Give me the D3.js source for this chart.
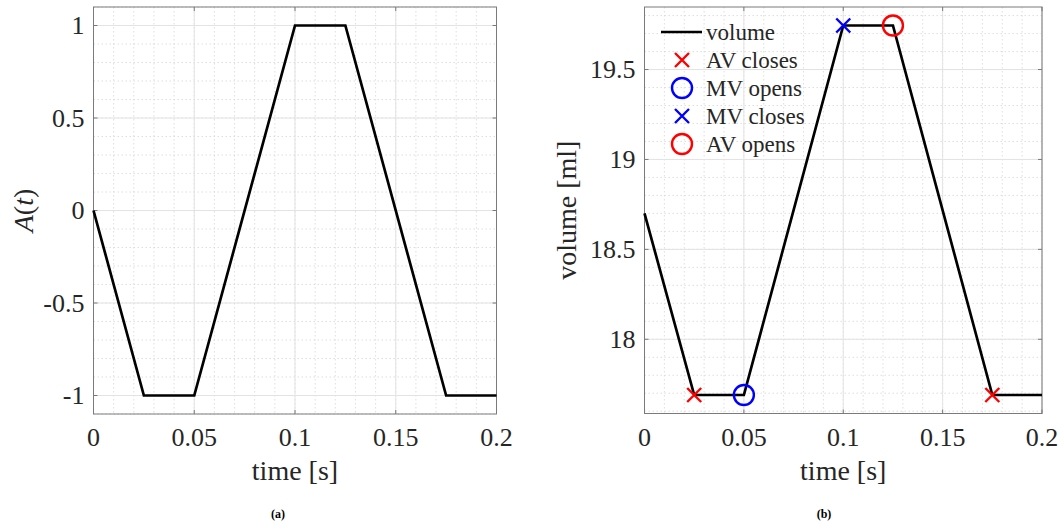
<!DOCTYPE html>
<html>
<head>
<meta charset="utf-8">
<script src="https://cdn.jsdelivr.net/npm/d3@7"></script>
<style>
  body { margin: 0; background: #fff; }
  svg text { font-family: "Liberation Serif", "Times New Roman", serif; fill: #262626; }
</style>
</head>
<body>
<svg id="chart" width="1062" height="525"></svg>
<script>
// waveform A(t) and ventricle volume, same time grid
var time = [0, 0.025, 0.05, 0.1, 0.125, 0.175, 0.2];
var activation = [0, -1, -1, 1, 1, -1, -1];
var volume = [18.7, 17.69, 17.69, 19.745, 19.745, 17.69, 17.69];

var xTicks = [0, 0.05, 0.1, 0.15, 0.2];
var xTickLabels = ["0", "0.05", "0.1", "0.15", "0.2"];
var aTicks = [-1, -0.5, 0, 0.5, 1];
var aTickLabels = ["-1", "-0.5", "0", "0.5", "1"];
var vTicks = [18, 18.5, 19, 19.5];
var vTickLabels = ["18", "18.5", "19", "19.5"];

// valve events on the volume curve
var events = [
  { name: "AV closes", color: "#ff0000", shape: "x", t: [0.025, 0.175], v: [17.69, 17.69] },
  { name: "MV opens", color: "#0000ff", shape: "o", t: [0.05], v: [17.69] },
  { name: "MV closes", color: "#0000ff", shape: "x", t: [0.1], v: [19.745] },
  { name: "AV opens", color: "#ff0000", shape: "o", t: [0.125], v: [19.745] }
];

var svg = d3.select("#chart");

function padded(vals) {
  var lo = d3.min(vals), hi = d3.max(vals), pad = (hi - lo) * 0.05;
  return [lo - pad, hi + pad];
}

function drawPanel(opt) {
  var g = svg.append("g");
  var x = d3.scaleLinear().domain([0, 0.2]).range([opt.left, opt.right]);
  var y = d3.scaleLinear().domain(padded(opt.values)).range([opt.bottom, opt.top]);

  // minor grid
  var xMinor = d3.range(0, 0.2001, 0.01);
  var yMinor = d3.range(Math.ceil(y.domain()[0] * 10), Math.floor(y.domain()[1] * 10) + 1).map(function(d) { return d / 10; });
  g.selectAll(".mx").data(xMinor).enter().append("line")
    .attr("x1", x).attr("x2", x).attr("y1", opt.top).attr("y2", opt.bottom)
    .attr("stroke", "#d6d6d6").attr("stroke-width", 0.8).attr("stroke-dasharray", "1.5,2.5");
  g.selectAll(".my").data(yMinor).enter().append("line")
    .attr("y1", y).attr("y2", y).attr("x1", opt.left).attr("x2", opt.right)
    .attr("stroke", "#d6d6d6").attr("stroke-width", 0.8).attr("stroke-dasharray", "1.5,2.5");

  // major grid
  g.selectAll(".gx").data(xTicks).enter().append("line")
    .attr("x1", x).attr("x2", x).attr("y1", opt.top).attr("y2", opt.bottom)
    .attr("stroke", "#e3e3e3").attr("stroke-width", 1);
  g.selectAll(".gy").data(opt.yTicks).enter().append("line")
    .attr("y1", y).attr("y2", y).attr("x1", opt.left).attr("x2", opt.right)
    .attr("stroke", "#e3e3e3").attr("stroke-width", 1);

  // box with inward ticks
  g.append("rect").attr("x", opt.left).attr("y", opt.top)
    .attr("width", opt.right - opt.left).attr("height", opt.bottom - opt.top)
    .attr("fill", "none").attr("stroke", "#7a7a7a").attr("stroke-width", 1);
  var tl = 4;
  xTicks.forEach(function(d) {
    g.append("line").attr("x1", x(d)).attr("x2", x(d)).attr("y1", opt.bottom).attr("y2", opt.bottom - tl).attr("stroke", "#7a7a7a");
    g.append("line").attr("x1", x(d)).attr("x2", x(d)).attr("y1", opt.top).attr("y2", opt.top + tl).attr("stroke", "#7a7a7a");
  });
  opt.yTicks.forEach(function(d) {
    g.append("line").attr("y1", y(d)).attr("y2", y(d)).attr("x1", opt.left).attr("x2", opt.left + tl).attr("stroke", "#7a7a7a");
    g.append("line").attr("y1", y(d)).attr("y2", y(d)).attr("x1", opt.right).attr("x2", opt.right - tl).attr("stroke", "#7a7a7a");
  });

  // tick labels
  g.selectAll(".xl").data(xTicks).enter().append("text")
    .attr("x", x).attr("y", 446)
    .attr("text-anchor", "middle").attr("font-size", 26)
    .text(function(d, i) { return xTickLabels[i]; });
  g.selectAll(".yl").data(opt.yTicks).enter().append("text")
    .attr("x", opt.left - 9).attr("y", y).attr("dy", "0.34em")
    .attr("text-anchor", "end").attr("font-size", 26)
    .text(function(d, i) { return opt.yTickLabels[i]; });

  // axis labels
  g.append("text").attr("x", (opt.left + opt.right) / 2).attr("y", 480)
    .attr("text-anchor", "middle").attr("font-size", 28).text("time [s]");
  var yl = g.append("text")
    .attr("transform", "translate(" + opt.yLabelX + "," + (opt.top + opt.bottom) / 2 + ") rotate(-90)")
    .attr("text-anchor", "middle").attr("font-size", 28);
  opt.yLabel(yl);

  // curve
  var line = d3.line().x(function(d) { return x(d[0]); }).y(function(d) { return y(d[1]); });
  g.append("path").datum(d3.zip(time, opt.values))
    .attr("d", line).attr("fill", "none").attr("stroke", "#000")
    .attr("stroke-width", 2.7).attr("stroke-linejoin", "miter");

  // caption
  svg.append("text").attr("x", opt.captionX).attr("y", 518)
    .attr("text-anchor", "middle").attr("font-size", 12).attr("font-weight", "bold")
    .style("fill", "#000").text(opt.caption);

  return { x: x, y: y, g: g };
}

function marker(g, cx, cy, shape, color) {
  if (shape === "o") {
    g.append("circle").attr("cx", cx).attr("cy", cy).attr("r", 10)
      .attr("fill", "none").attr("stroke", color).attr("stroke-width", 2.4);
  } else {
    var s = 7;
    g.append("path").attr("d", "M" + (cx - s) + "," + (cy - s) + "L" + (cx + s) + "," + (cy + s) +
      "M" + (cx - s) + "," + (cy + s) + "L" + (cx + s) + "," + (cy - s))
      .attr("stroke", color).attr("stroke-width", 2.4);
  }
}

drawPanel({
  left: 93.5, right: 496.5, top: 7, bottom: 414,
  values: activation, yTicks: aTicks, yTickLabels: aTickLabels,
  yLabelX: 33, captionX: 278, caption: "(a)",
  yLabel: function(t) {
    t.append("tspan").attr("font-style", "italic").text("A");
    t.append("tspan").text("(");
    t.append("tspan").attr("font-style", "italic").text("t");
    t.append("tspan").text(")");
  }
});

var right = drawPanel({
  left: 644.5, right: 1042, top: 7, bottom: 413.5,
  values: volume, yTicks: vTicks, yTickLabels: vTickLabels,
  yLabelX: 576, captionX: 824, caption: "(b)",
  yLabel: function(t) { t.text("volume [ml]"); }
});

events.forEach(function(ev) {
  ev.t.forEach(function(tt, i) {
    marker(right.g, right.x(tt), right.y(ev.v[i]), ev.shape, ev.color);
  });
});

// legend (no box, grid shows through)
var lg = svg.append("g");
var rowY = [32, 60, 88, 116, 144];
lg.append("line").attr("x1", 661).attr("x2", 702).attr("y1", rowY[0]).attr("y2", rowY[0])
  .attr("stroke", "#000").attr("stroke-width", 2.7);
lg.append("text").attr("x", 706).attr("y", rowY[0]).attr("dy", "0.33em").attr("font-size", 23).text("volume");
events.forEach(function(ev, i) {
  marker(lg, 682, rowY[i + 1], ev.shape, ev.color);
  lg.append("text").attr("x", 706).attr("y", rowY[i + 1]).attr("dy", "0.33em").attr("font-size", 23).text(ev.name);
});
</script>
</body>
</html>
